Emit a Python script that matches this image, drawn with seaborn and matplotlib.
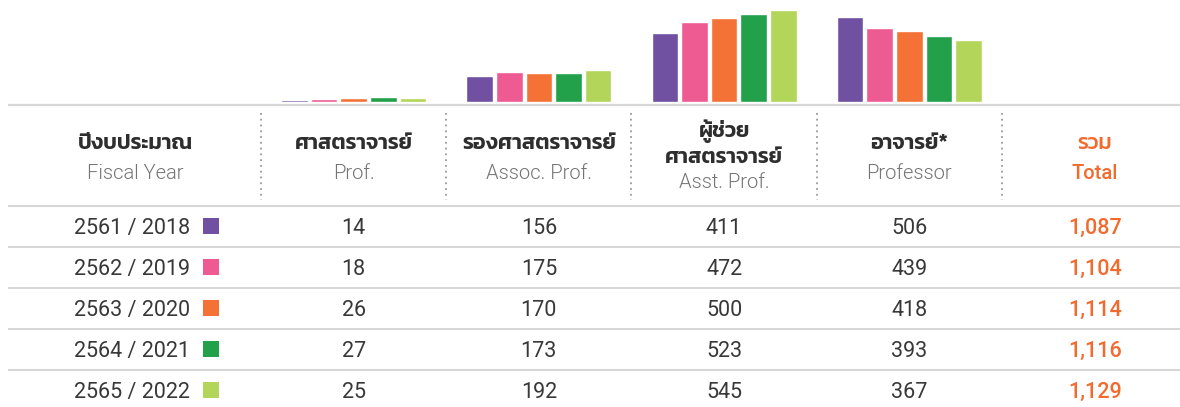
import matplotlib
matplotlib.use("Agg")
import matplotlib.pyplot as plt
import matplotlib.transforms as mtransforms
from matplotlib.patches import Rectangle
import pandas as pd
import seaborn as sns

years = ["2561 / 2018", "2562 / 2019", "2563 / 2020", "2564 / 2021", "2565 / 2022"]
ranks_th = ["ศาสตราจารย์", "รองศาสตราจารย์", "ผู้ช่วย\nศาสตราจารย์", "อาจารย์*"]
ranks_en = ["Prof.", "Assoc. Prof.", "Asst. Prof.", "Professor"]
prof = [14, 18, 26, 27, 25]
assoc = [156, 175, 170, 173, 192]
asst = [411, 472, 500, 523, 545]
lecturer = [506, 439, 418, 393, 367]
totals = ["1,087", "1,104", "1,114", "1,116", "1,129"]
colors = ["#7050A0", "#EE5A92", "#F47236", "#22A04A", "#B3D55A"]
orange = "#F26B2E"

sns.set_style("white")
THAI = ["Kanit", "DejaVu Sans"]
LATIN = ["Roboto", "DejaVu Sans"]
plt.rcParams["font.family"] = ["Kanit", "Roboto", "DejaVu Sans"]

W, H = 1180, 407
fig = plt.figure(figsize=(W / 100, H / 100), dpi=100)

# table layer in pixel coordinates
ax_t = fig.add_axes([0, 0, 1, 1])
ax_t.set_xlim(0, W)
ax_t.set_ylim(H, 0)
ax_t.axis("off")

# bar layer: categories 0..3, baseline at y=102 px
ax_b = fig.add_axes([261 / W, (H - 102) / H, (1002 - 261) / W, 102 / H])
series = [prof, assoc, asst, lecturer]
df = pd.DataFrame(
    [(ranks_en[i], years[j], series[i][j]) for i in range(4) for j in range(5)],
    columns=["rank", "year", "value"],
)
sns.barplot(data=df, x="rank", y="value", hue="year", palette=colors,
            saturation=1, gap=0.1, legend=False, ax=ax_b, zorder=3)
ax_b.set_xlim(-0.5, 3.5)
ax_b.set_ylim(0, 604)
ax_b.axis("off")

colx = mtransforms.blended_transform_factory(ax_b.transData, ax_t.transData)

# horizontal rules
ax_t.plot([8, W], [105, 105], color="#d6d6d6", lw=1.6, solid_capstyle="butt")
for y in [206, 247, 288, 329, 370]:
    ax_t.plot([8, W], [y, y], color="#cccccc", lw=1.1, solid_capstyle="butt")
# dotted separators
for x in [261, 446, 631, 817, 1002]:
    ax_t.plot([x, x], [113, 200], color="#9a9a9a", lw=1.3, ls=(0, (1, 2.2)))

dark = "#383838"
grey = "#757575"
th_kw = dict(ha="center", va="baseline", fontsize=15.5, fontweight=600,
             color="#2e2e2e", family=THAI)
en_kw = dict(ha="center", va="baseline", fontsize=14.5, fontweight=300,
             color=grey, family=LATIN)

# header
ax_t.text(135, 149, "ปีงบประมาณ", **th_kw)
ax_t.text(135, 179, "Fiscal Year", **en_kw)
for i in range(4):
    if "\n" in ranks_th[i]:
        l1, l2 = ranks_th[i].split("\n")
        ax_t.text(i, 137, l1, transform=colx, **th_kw)
        ax_t.text(i, 163, l2, transform=colx, **th_kw)
        ax_t.text(i, 188, ranks_en[i], transform=colx, **en_kw)
    else:
        ax_t.text(i, 149, ranks_th[i], transform=colx, **th_kw)
        ax_t.text(i, 179, ranks_en[i], transform=colx, **en_kw)
ax_t.text(4, 149, "รวม", transform=colx, **{**th_kw, "color": orange,
                                             "fontweight": 500})
ax_t.text(4, 179, "Total", transform=colx,
          **{**en_kw, "color": orange, "fontweight": 500})

# rows
row_y = [234, 275, 316, 357, 398]
num_kw = dict(va="baseline", fontsize=15.5, fontweight=400, color=dark,
              family=LATIN)
for j, y in enumerate(row_y):
    ax_t.text(190, y, years[j], ha="right", **num_kw)
    ax_t.add_patch(Rectangle((203, y - 16), 16, 16, color=colors[j], lw=0))
    for i in range(4):
        ax_t.text(i, y, str(series[i][j]), transform=colx, ha="center", **num_kw)
    ax_t.text(4, y, totals[j], transform=colx, ha="center",
              **{**num_kw, "color": orange, "fontweight": 500})

fig.savefig("out.png", dpi=100)
